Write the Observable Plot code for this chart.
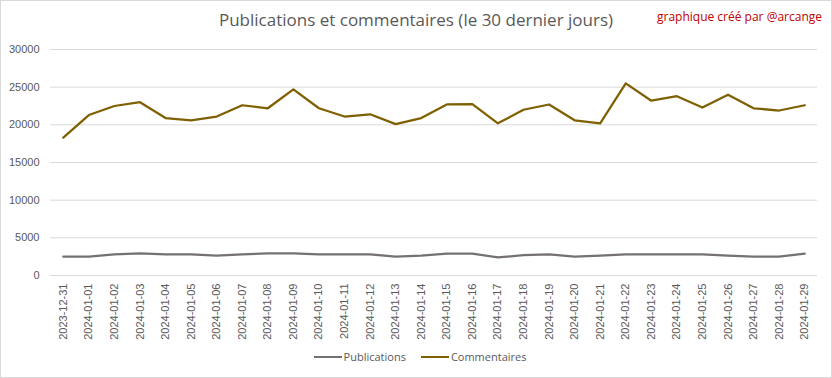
<!DOCTYPE html>
<html>
<head>
<meta charset="utf-8">
<script src="https://cdn.jsdelivr.net/npm/d3@7"></script>
<script src="https://cdn.jsdelivr.net/npm/@observablehq/plot@0.6"></script>
<style>
  html, body { margin: 0; padding: 0; background: #fff; }
  #wrap { position: relative; width: 832px; height: 378px; overflow: hidden; background: #fff; font-family: "Liberation Sans", sans-serif; }
  #frame { position: absolute; left: 0; top: 0; width: 830px; height: 376px; border: 1px solid #d9d9d9; pointer-events: none; }
  #title { position: absolute; left: 0; width: 832px; top: 8px; text-align: center; font-size: 17px; color: #595959; font-family: "Open Sans", sans-serif; }
  #credit { position: absolute; right: 10px; top: 8px; font-size: 12px; color: #c00000; font-family: "Open Sans", sans-serif; }
  #chart { position: absolute; left: 0; top: 0; }
  #legend { position: absolute; left: 4px; width: 832px; top: 349px; display: flex; justify-content: center; gap: 15px; font-size: 11px; color: #595959; font-family: "Open Sans", sans-serif; }
  .item { display: flex; align-items: center; }
  .sw { display: inline-block; width: 28px; height: 2px; margin-right: 2px; }
</style>
</head>
<body>
<div id="wrap">
  <div id="chart"></div>
  <div id="title">Publications et commentaires (le 30 dernier jours)</div>
  <div id="credit">graphique créé par @arcange</div>
  <div id="legend"></div>
  <div id="frame"></div>
</div>
<script>
const dates = ["2023-12-31","2024-01-01","2024-01-02","2024-01-03","2024-01-04","2024-01-05","2024-01-06","2024-01-07","2024-01-08","2024-01-09","2024-01-10","2024-01-11","2024-01-12","2024-01-13","2024-01-14","2024-01-15","2024-01-16","2024-01-17","2024-01-18","2024-01-19","2024-01-20","2024-01-21","2024-01-22","2024-01-23","2024-01-24","2024-01-25","2024-01-26","2024-01-27","2024-01-28","2024-01-29"];
const publications = [2500,2500,2800,2950,2800,2800,2650,2800,2950,2950,2800,2800,2800,2500,2650,2900,2900,2400,2700,2800,2500,2650,2800,2800,2800,2800,2650,2500,2500,2900];
const commentaires = [18300,21300,22500,23000,20900,20600,21100,22600,22200,24700,22200,21100,21400,20100,20900,22700,22750,20200,22000,22700,20600,20200,25500,23200,23800,22300,24000,22200,21900,22600];
const seriesNames = ["Publications","Commentaires"];
const seriesColors = ["#767171","#7f6000"];
const yTicks = [0,5000,10000,15000,20000,25000,30000];

const rows = [];
dates.forEach((d,i) => {
  rows.push({date:d, value:publications[i], series:seriesNames[0]});
  rows.push({date:d, value:commentaires[i], series:seriesNames[1]});
});

const chart = Plot.plot({
  width: 832, height: 378,
  marginLeft: 50, marginRight: 15, marginTop: 49, marginBottom: 103,
  style: {fontFamily: "Liberation Sans, sans-serif", fontSize: "11px", color: "#595959", background: "transparent"},
  x: {type: "point", domain: dates, padding: 0.5, round: false, label: null},
  y: {domain: [0, 30000], label: null},
  color: {domain: seriesNames, range: seriesColors},
  marks: [
    Plot.ruleY(yTicks, {stroke: "#d9d9d9", strokeWidth: 1}),
    Plot.lineY(rows, {x: "date", y: "value", z: "series", stroke: "series", strokeWidth: 2.25}),
    Plot.axisY(yTicks, {tickSize: 0, tickPadding: 11, label: null, tickFormat: d => String(d)}),
    Plot.axisX({tickSize: 0, tickPadding: 8, tickRotate: -90, label: null})
  ]
});
document.getElementById("chart").appendChild(chart);

const lg = document.getElementById("legend");
seriesNames.forEach((n,i) => {
  const it = document.createElement("div"); it.className = "item";
  const sw = document.createElement("span"); sw.className = "sw"; sw.style.background = seriesColors[i];
  const tx = document.createElement("span"); tx.textContent = n;
  it.appendChild(sw); it.appendChild(tx); lg.appendChild(it);
});
</script>
</body>
</html>
